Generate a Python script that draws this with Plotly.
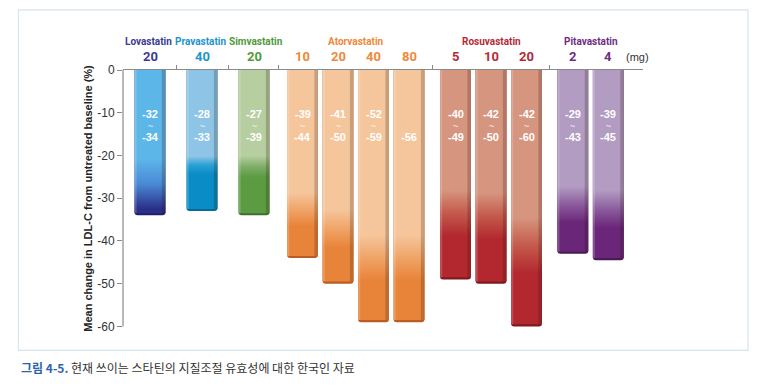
import plotly.graph_objects as go

# ---------------- data ----------------
drugs = ["Lovastatin", "Pravastatin", "Simvastatin", "Atorvastatin", "Rosuvastatin", "Pitavastatin"]
doses_mg = [[20], [40], [20], [10, 20, 40, 80], [5, 10, 20], [2, 4]]
# mean LDL-C change reached by each bar (%)
bar_values = [-34, -33, -34, -44, -50, -59, -59, -49, -50, -60, -43, -44.5]
# printed ranges inside bars (upper end / lower end)
range_upper = [-32, -28, -27, -39, -41, -52, None, -40, -42, -42, -29, -39]
range_lower = [-34, -33, -39, -44, -50, -59, -56, -49, -50, -60, -43, -45]
y_ticks = [0, -10, -20, -30, -40, -50, -60]
y_title = "Mean change in LDL-C from untreated baseline (%)"
unit_label = "(mg)"
caption_head = "그림 4-5."
caption_body = "현재 쓰이는 스타틴의 지질조절 유효성에 대한 한국인 자료"

# ---------------- styles ----------------
name_colors = ["#3b3b90", "#1b94d2", "#4f9a3b", "#f0883a", "#b42a36", "#6e2c82"]
name_shift_px = [-1.7, -1.8, 2.3, 0, 0, 0]
bar_top = ["#5cb6e8", "#8ec5e6", "#b6cea0", "#f5c69c", "#d6957f", "#b29cc2"]
bar_mid = ["#4a8ad6", "#2aa0d4", "#7fae66", "#f0a468", "#c45a4c", "#8c5c9e"]
bar_bottom = ["#2a2f88", "#0a8cc6", "#5b9b42", "#e8843a", "#b2282e", "#6a2678"]
bar_edge = ["#1e2266", "#0a6a96", "#3f7030", "#b85e22", "#7e1a1f", "#4a1a55"]
# gradient stops (fraction of bar length measured from the bar end): dark until, light from
grad_dark = [0.03, 0.25, 0.25, 0.16, 0.2, 0.16]
grad_light = [0.38, 0.38, 0.40, 0.34, 0.42, 0.36]
group_gaps = [1.465, 1.465, 1.366, 1.31, 1.304]   # spacing between groups (bar-pitch units)
BAR_W = 0.87

OFF = 8                      # page body margin of the browser
PAGE_W, PAGE_H = 765, 391
W, H = PAGE_W - OFF, PAGE_H - OFF
L, R, T, B = 123, 643, 70, 328.6   # plot area in page pixels

def px_x(px):
    return (px - L) / (R - L)

def px_y(py):
    return (B - py) / (B - T)

# ---------------- layout positions ----------------
positions, group_of_bar, dose_of_bar, group_centers, boundaries = [], [], [], [], []
cur = 0.0
for g, ds in enumerate(doses_mg):
    if g > 0:
        prev_end = cur
        cur += group_gaps[g - 1]
        boundaries.append((prev_end + cur) / 2)
    first = cur
    for j, d in enumerate(ds):
        if j > 0:
            cur += 1.0
        positions.append(cur)
        group_of_bar.append(g)
        dose_of_bar.append(d)
    group_centers.append((first + cur) / 2)

x_left = -(150 - L) / 35.5
x_right = x_left + (R - L) / 35.5

fig = go.Figure()

# base bars (dark rounded bottom edge)
fig.add_trace(go.Bar(
    x=positions, y=bar_values, width=BAR_W,
    marker=dict(color=[bar_edge[g] for g in group_of_bar], line=dict(width=0), cornerradius=3),
    hoverinfo="skip", showlegend=False,
))

# gradient body of each bar
for xp, v, g in zip(positions, bar_values, group_of_bar):
    x0, x1 = xp - BAR_W / 2, xp + BAR_W / 2
    yb = v + 0.5
    d, l = grad_dark[g], grad_light[g]
    fig.add_trace(go.Scatter(
        x=[x0, x1, x1, x0, x0], y=[0, 0, yb, yb, 0],
        mode="lines", line=dict(width=0), fill="toself",
        fillgradient=dict(type="vertical",
                          colorscale=[[0, bar_bottom[g]], [d, bar_bottom[g]],
                                      [(d + l) / 2, bar_mid[g]],
                                      [l, bar_top[g]], [1, bar_top[g]]]),
        hoverinfo="skip", showlegend=False,
    ))
    # right-edge shade
    fig.add_trace(go.Scatter(
        x=[x1 - 0.1, x1, x1, x1 - 0.1, x1 - 0.1], y=[0, 0, yb, yb, 0],
        mode="lines", line=dict(width=0), fill="toself", fillcolor="rgba(40,20,10,0.22)",
        hoverinfo="skip", showlegend=False,
    ))
    # left-edge highlight
    fig.add_trace(go.Scatter(
        x=[x0, x0 + 0.06, x0 + 0.06, x0, x0], y=[0, 0, yb, yb, 0],
        mode="lines", line=dict(width=0), fill="toself", fillcolor="rgba(255,255,255,0.18)",
        hoverinfo="skip", showlegend=False,
    ))

annotations = []
# values inside bars
for xp, hi, lo in zip(positions, range_upper, range_lower):
    if hi is not None:
        annotations.append(dict(x=xp, y=-10.4, xref="x", yref="y", text=f"<b>{hi}</b>", showarrow=False,
                                font=dict(family="Liberation Sans", size=11, color="white")))
        annotations.append(dict(x=xp, y=-13.0, xref="x", yref="y", text="<b>~</b>", showarrow=False,
                                font=dict(family="Liberation Sans", size=9, color="rgba(255,255,255,0.75)")))
    annotations.append(dict(x=xp, y=-15.6, xref="x", yref="y", text=f"<b>{lo}</b>", showarrow=False,
                            font=dict(family="Liberation Sans", size=11, color="white")))

# dose labels
for xp, d, g in zip(positions, dose_of_bar, group_of_bar):
    annotations.append(dict(x=xp, y=px_y(56.7), xref="x", yref="paper", text=f"<b>{d}</b>",
                            showarrow=False, xanchor="center", yanchor="middle",
                            font=dict(family="Roboto", size=13, color=name_colors[g])))
# drug names
for xc, name, col, sh in zip(group_centers, drugs, name_colors, name_shift_px):
    annotations.append(dict(x=xc, y=px_y(41.7), xref="x", yref="paper", text=f"<b>{name}</b>",
                            showarrow=False, xanchor="center", yanchor="middle", xshift=sh,
                            font=dict(family="Roboto", size=10, color=col)))
# unit
annotations.append(dict(x=px_x(637.8), y=px_y(56.7), xref="paper", yref="paper", text=unit_label,
                        showarrow=False, xanchor="center", yanchor="middle",
                        font=dict(family="Liberation Sans", size=11, color="#333333")))
# y title
annotations.append(dict(x=px_x(88.5), y=px_y(198), xref="paper", yref="paper", text=f"<b>{y_title}</b>",
                        showarrow=False, textangle=-90, xanchor="center", yanchor="middle",
                        font=dict(family="Liberation Sans", size=11, color="#222222")))
# caption
annotations.append(dict(x=px_x(19), y=px_y(367), xref="paper", yref="paper", xanchor="left", yanchor="middle",
                        text=f"<span style='color:#2a64ad'><b>{caption_head}</b></span> {caption_body}",
                        showarrow=False,
                        font=dict(family="Noto Sans CJK KR", size=12, color="#333333")))

shapes = [
    dict(type="rect", xref="paper", yref="paper", x0=px_x(18.5), x1=px_x(748), y0=px_y(10), y1=px_y(350),
         line=dict(color="#d6e4ee", width=1.2), fillcolor="rgba(0,0,0,0)", layer="below"),
    dict(type="line", xref="paper", yref="y", x0=0, x1=0, y0=0, y1=-60,
         line=dict(color="#8a8a8a", width=1.2)),
]

fig.update_layout(
    width=W, height=H,
    margin=dict(l=L - OFF, r=PAGE_W - R, t=T - OFF, b=PAGE_H - B, pad=0),
    paper_bgcolor="white", plot_bgcolor="white",
    barmode="overlay", showlegend=False,
    annotations=annotations, shapes=shapes,
    xaxis=dict(range=[x_left, x_right], side="top", showline=True, linecolor="#8a8a8a", linewidth=1.2,
               ticks="outside", tickvals=boundaries, ticklen=4, tickcolor="#8a8a8a", tickwidth=1,
               showticklabels=False, showgrid=False, zeroline=False, fixedrange=True),
    yaxis=dict(range=[-60.6, 0], tickvals=y_ticks, ticktext=[str(t) for t in y_ticks],
               ticks="outside", ticklen=5, tickcolor="#8a8a8a", tickwidth=1,
               showline=False, showgrid=False, zeroline=False,
               tickfont=dict(family="Liberation Sans", size=12, color="#333333"), fixedrange=True),
)

fig.write_html("out.html")
